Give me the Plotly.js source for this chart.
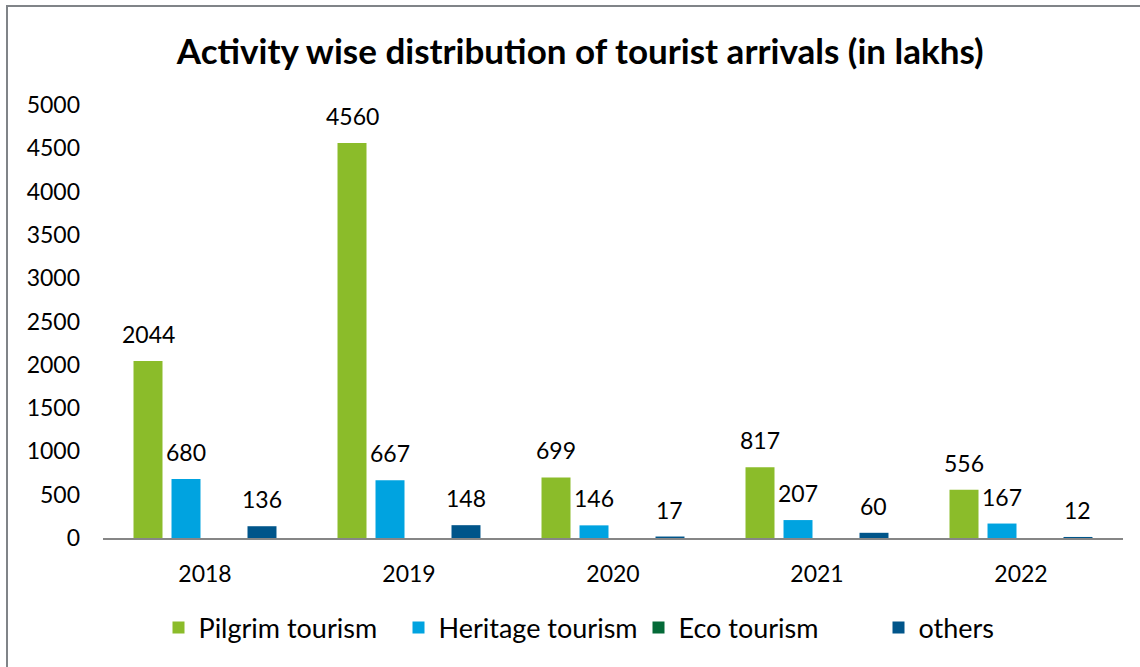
<!DOCTYPE html>
<html>
<head>
<meta charset="utf-8">
<script src="https://cdn.plot.ly/plotly-3.0.1.min.js"></script>
<style>
  html, body { margin: 0; padding: 0; background: #ffffff; }
  #chart { position: absolute; left: 0; top: 0; width: 1140px; height: 667px; }
  #frame { position: absolute; left: 6px; top: 5px; width: 1140px; height: 667px;
           border-left: 2px solid #808488; border-top: 2px solid #808488; pointer-events: none; }
</style>
</head>
<body>
<div id="chart"></div>
<div id="frame"></div>
<script>
const years = ["2018", "2019", "2020", "2021", "2022"];
const pilgrim = [2044, 4560, 699, 817, 556];
const heritage = [680, 667, 146, 207, 167];
const eco = [0, 0, 0, 0, 0];
const others = [136, 148, 17, 60, 12];
const seriesNames = ["Pilgrim tourism", "Heritage tourism", "Eco tourism", "others"];
const seriesColors = ["#8BBC2A", "#00A3E0", "#046A38", "#00558A"];
const labelled = [true, true, false, true];
const yTicks = [0, 500, 1000, 1500, 2000, 2500, 3000, 3500, 4000, 4500, 5000];

const FONT = "Lato, 'Open Sans', 'Liberation Sans', sans-serif";
const BARGAP = 0.255, BARGROUPGAP = 0.237;

const allSeries = [pilgrim, heritage, eco, others];

const data = allSeries.map((vals, k) => ({
  type: "bar", name: seriesNames[k], x: years, y: vals,
  marker: { color: seriesColors[k] },
  textposition: "none",
  hoverinfo: "x+y+name"
}));

// data labels as annotations placed over each bar of the group
const nSeries = allSeries.length;
const slot = (1 - BARGAP) / nSeries;
const annotations = [];
allSeries.forEach((vals, k) => {
  if (!labelled[k]) return;
  vals.forEach((v, i) => {
    annotations.push({
      xref: "x", yref: "y",
      x: i + (k - (nSeries - 1) / 2) * slot, y: v,
      text: String(v), showarrow: false,
      xanchor: "center", yanchor: "middle", yshift: 27,
      font: { family: FONT, size: 23, color: "#000000" }
    });
  });
});

const layout = {
  width: 1140, height: 667,
  margin: { l: 103, r: 17, t: 105, b: 129 },
  paper_bgcolor: "#ffffff", plot_bgcolor: "#ffffff",
  font: { family: FONT, size: 23, color: "#000000" },
  title: {
    text: "<b>Activity wise distribution of tourist arrivals (in lakhs)</b>",
    font: { family: FONT, size: 35, color: "#000000" },
    x: 0.509, xanchor: "center", y: 0.922, yanchor: "middle"
  },
  barmode: "group",
  bargap: BARGAP,
  bargroupgap: BARGROUPGAP,
  xaxis: {
    type: "category",
    showline: true, linecolor: "#868686", linewidth: 2,
    ticks: "", showgrid: false, zeroline: false,
    ticklabelstandoff: 14,
    tickfont: { family: FONT, size: 23, color: "#000000" }
  },
  yaxis: {
    range: [0, 5000], tickvals: yTicks, ticktext: yTicks.map(String),
    showline: false, showgrid: false, zeroline: false, ticks: "",
    ticklabelstandoff: 22,
    tickfont: { family: FONT, size: 23, color: "#000000" }
  },
  annotations: annotations,
  showlegend: true,
  legend: {
    orientation: "h", x: 0.525, xanchor: "center", y: -0.208, yanchor: "middle",
    font: { family: FONT, size: 27, color: "#000000" },
    itemwidth: 30, tracegroupgap: 0,
    entrywidth: 195, entrywidthmode: "pixels"
  }
};

Plotly.newPlot("chart", data, layout, { displayModeBar: false, staticPlot: true });
</script>
</body>
</html>
